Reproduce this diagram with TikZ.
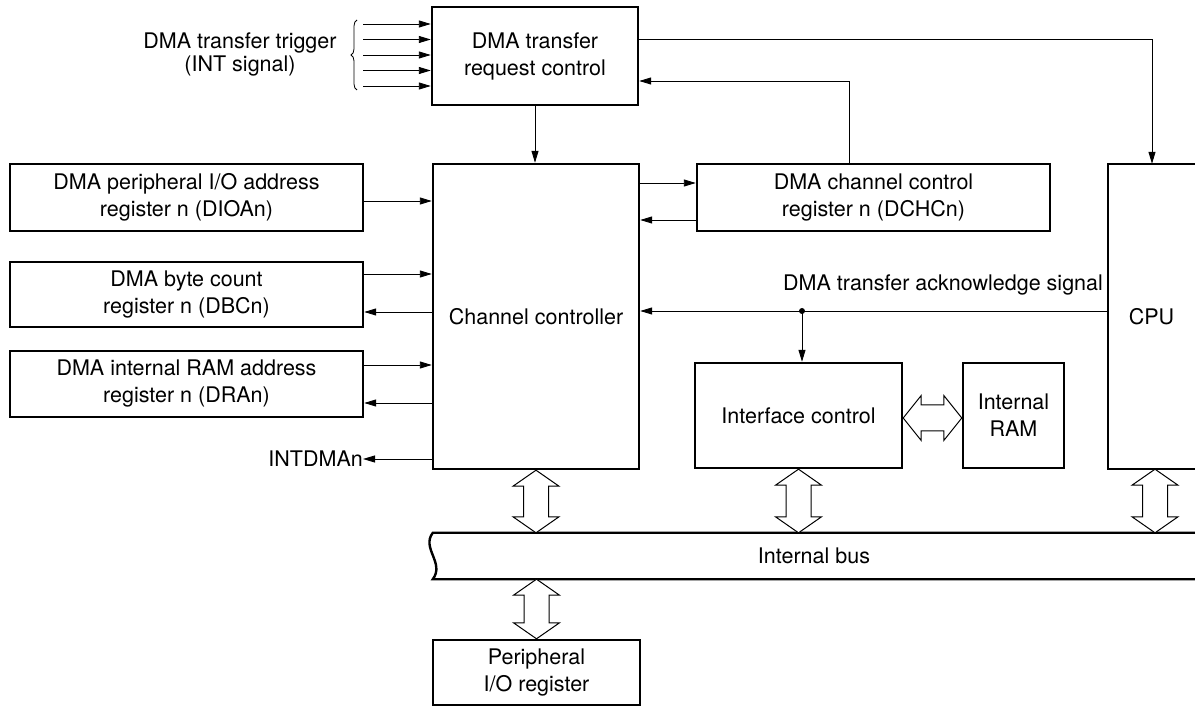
\documentclass[tikz,border=0pt]{standalone}
\usepackage{fontspec}
\setmainfont{TeX Gyre Heros}
\usetikzlibrary{arrows.meta,calc,decorations.pathreplacing}
\newcommand\fs{\fontsize{21.5}{27}\selectfont}
\newcommand\fatV[2]{\draw[fat] let \p1=#1, \p2=#2 in (\x1,\y1) -- (\x1+23pt,\y1-16pt) -- (\x1+12.5pt,\y1-16pt) -- (\x1+12.5pt,\y2+16pt) -- (\x1+23pt,\y2+16pt) -- (\x1,\y2) -- (\x1-23pt,\y2+16pt) -- (\x1-12.5pt,\y2+16pt) -- (\x1-12.5pt,\y1-16pt) -- (\x1-23pt,\y1-16pt) -- cycle;}
\newcommand\fatH[2]{\draw[fat] let \p1=#1, \p2=#2 in (\x1,\y1) -- (\x1+18pt,\y1+22.5pt) -- (\x1+18pt,\y1+13pt) -- (\x2-18pt,\y1+13pt) -- (\x2-18pt,\y1+22.5pt) -- (\x2,\y1) -- (\x2-18pt,\y1-22.5pt) -- (\x2-18pt,\y1-13pt) -- (\x1+18pt,\y1-13pt) -- (\x1+18pt,\y1-22.5pt) -- cycle;}
\begin{document}
\begin{tikzpicture}[x=1pt,y=-1pt,
  box/.style={draw, line width=2.4pt, align=center, inner sep=0pt, font=\fs},
  plain/.style={align=center, inner sep=0pt, font=\fs},
  arr/.style={-{Triangle[length=12pt,width=7pt]}, line width=0.9pt},
  fat/.style={line width=1pt, line join=miter, fill=white},
  thick line/.style={line width=2.4pt}]
\useasboundingbox (0,0) rectangle (1195,708);

% boxes
\node[box, minimum width=206pt, minimum height=98pt] (req) at (535,56) {DMA transfer\\request control};
\node[box, minimum width=206pt, minimum height=305pt] (cc) at (536,316.5) {Channel controller};
\node[box, minimum width=353pt, minimum height=67pt] (dchc) at (873.5,197.5) {DMA channel control\\register n (DCHCn)};
\node[box, minimum width=353pt, minimum height=67pt] (dioa) at (186.5,197.5) {DMA peripheral I/O address\\register n (DIOAn)};
\node[box, minimum width=353pt, minimum height=65pt] (dbc) at (186.5,294.5) {DMA byte count\\register n (DBCn)};
\node[box, minimum width=353pt, minimum height=66pt] (dra) at (186.5,384) {DMA internal RAM address\\register n (DRAn)};
\node[box, minimum width=207pt, minimum height=105pt] (ic) at (798.5,415.5) {Interface control};
\node[box, minimum width=101pt, minimum height=105pt] (ram) at (1013.5,415.5) {Internal\\RAM};
\node[plain, minimum width=87pt, minimum height=305pt] (cpu) at (1151.5,316.5) {CPU};
\draw[thick line] (cpu.north east) -- (cpu.north west) -- (cpu.south west) -- (cpu.south east);
\node[plain, minimum width=762pt, minimum height=46pt] (bus) at (814,556) {Internal bus};
\draw[thick line] (bus.north east) -- (bus.north west) .. controls (421,548) and (445,563) .. (bus.south west) -- (bus.south east);
\node[box, minimum width=207pt, minimum height=65pt] (pio) at (536.5,672.5) {Peripheral\\I/O register};

% labels
\node[plain, font=\fontsize{21.5}{23}\selectfont] (trig) at (240,54) {DMA transfer trigger\\(INT signal)};
\node[plain, anchor=east] (intd) at (363,459) {INTDMAn};
\node[plain, anchor=west] (ack) at (783,285) {DMA transfer acknowledge signal};

% trigger inputs
\draw[line width=0.8pt, decorate, decoration={brace, amplitude=6pt}] (357,90) -- (357,20);
\foreach \i in {0,...,4} {
  \coordinate (t\i) at (363,{24+15.5*\i});
  \draw[arr] (t\i) -- (t\i -| req.west);
}

% control connectors
\draw[arr] (req.south) -- (req.south |- cc.north);
\draw[arr] ([yshift=17pt]req.east) -| ([xshift=0.5pt]cpu.north);
\draw[arr] ([xshift=-24.5pt]dchc.north) |- ([yshift=-25pt]req.east);
\draw[arr] ([yshift=14.5pt]dchc.west -| cc.east) -- ([yshift=14.5pt]dchc.west);
\draw[arr] ([yshift=-22.5pt]dchc.west) -- ([yshift=-22.5pt]dchc.west -| cc.east);
\draw[arr] ([yshift=-3.5pt]dioa.east) -- ([yshift=-3.5pt]dioa.east -| cc.west);
\draw[arr] ([yshift=20.5pt]dbc.east) -- ([yshift=20.5pt]dbc.east -| cc.west);
\draw[arr] ([yshift=-17.5pt]dbc.east -| cc.west) -- ([yshift=-17.5pt]dbc.east);
\draw[arr] ([yshift=19pt]dra.east) -- ([yshift=19pt]dra.east -| cc.west);
\draw[arr] ([yshift=-19pt]dra.east -| cc.west) -- ([yshift=-19pt]dra.east);
\draw[arr] (intd.east -| cc.west) -- (intd.east);
\draw[arr] ([yshift=5.5pt]cpu.west) -- ([yshift=5.5pt]cpu.west -| cc.east);
\coordinate (ackdot) at ([xshift=3.5pt]ic.north |- 0,311);
\draw[arr] (ackdot) -- (ackdot |- ic.north);
\fill (ackdot) circle (3pt);

% bus connections
\fatV{(cc.south)}{(cc.south |- bus.north)}
\fatV{(ic.south)}{(ic.south |- bus.north)}
\fatV{([xshift=3.5pt]cpu.south)}{([xshift=3.5pt]cpu.south |- bus.north)}
\fatV{(bus.south -| pio.north)}{(pio.north)}
\fatH{([yshift=-2.5pt]ic.east)}{([yshift=-2.5pt]ram.west)}
\end{tikzpicture}
\end{document}
